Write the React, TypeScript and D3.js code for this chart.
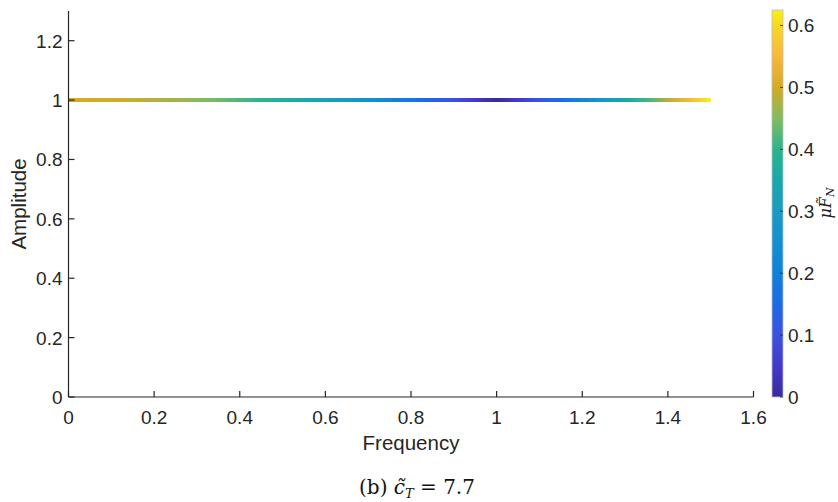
import React from "react";
import * as d3 from "d3";

const freq = [0, 0.05, 0.1, 0.15, 0.2, 0.25, 0.3, 0.35, 0.4, 0.45, 0.5, 0.55, 0.6, 0.65, 0.7, 0.75, 0.8, 0.85, 0.9, 0.95, 1.0, 1.05, 1.1, 1.15, 1.2, 1.25, 1.3, 1.35, 1.4, 1.45, 1.5];
const amplitude = [1, 1, 1, 1, 1, 1, 1, 1, 1, 1, 1, 1, 1, 1, 1, 1, 1, 1, 1, 1, 1, 1, 1, 1, 1, 1, 1, 1, 1, 1, 1];
const muFN = [0.5, 0.5, 0.495, 0.49, 0.48, 0.47, 0.455, 0.44, 0.42, 0.4, 0.375, 0.35, 0.32, 0.29, 0.255, 0.22, 0.18, 0.14, 0.095, 0.05, 0.0, 0.05, 0.105, 0.16, 0.22, 0.28, 0.345, 0.41, 0.48, 0.55, 0.625];

const xTicks = [0, 0.2, 0.4, 0.6, 0.8, 1, 1.2, 1.4, 1.6];
const yTicks = [0, 0.2, 0.4, 0.6, 0.8, 1, 1.2];
const cTicks = [0, 0.1, 0.2, 0.3, 0.4, 0.5, 0.6];
const cmapValues = [0, 0.05, 0.1, 0.15, 0.2, 0.25, 0.3, 0.35, 0.4, 0.45, 0.5, 0.55, 0.6, 0.625];
const cmapColors = ["#3b2a9c", "#4338cc", "#3a52e2", "#1a6ae8", "#0f80dc", "#1290d2", "#1a9ac2", "#18a8aa", "#2ab48e", "#80bc60", "#d6aa22", "#f8b83a", "#f8d824", "#f8f012"];

const W = 838, H = 502;
const fontSans = "'Liberation Sans', Arial, Helvetica, sans-serif";
const fontSerif = "'DejaVu Serif', 'Liberation Serif', serif";

export default function App() {
  const x = d3.scaleLinear().domain([0, 1.6]).range([68.5, 753.5]);
  const y = d3.scaleLinear().domain([0, 1.3]).range([397, 11]);
  const cmax = 0.625;
  const cy = d3.scaleLinear().domain([0, cmax]).range([397, 10]);
  const color = d3.scaleLinear<string>().domain(cmapValues).range(cmapColors).interpolate(d3.interpolateRgb).clamp(true);

  const pts = freq.map((f, i) => [f, amplitude[i]] as [number, number]);
  const line = d3.line<[number, number]>().x(d => x(d[0])).y(d => y(d[1]));

  const cbX = 772, cbW = 11;
  const cbStops = d3.range(0, 1.0001, 0.02);
  const axisColor = "#262626";
  const tickLen = 6;

  return (
    <svg width={W} height={H} style={{ position: "absolute", left: 0, top: 0, background: "#fff" }}>
      <defs>
        <linearGradient id="lineGrad" gradientUnits="userSpaceOnUse" x1={x(freq[0])} x2={x(freq[freq.length - 1])} y1={0} y2={0}>
          {freq.map((f, i) => (
            <stop key={i} offset={(f - freq[0]) / (freq[freq.length - 1] - freq[0])} stopColor={color(muFN[i])} />
          ))}
        </linearGradient>
        <linearGradient id="cbGrad" x1="0" x2="0" y1="1" y2="0">
          {cbStops.map((t, i) => (
            <stop key={i} offset={t} stopColor={color(t * cmax)} />
          ))}
        </linearGradient>
      </defs>

      {/* data line */}
      <path d={line(pts) || ""} fill="none" stroke="url(#lineGrad)" strokeWidth={4} />

      {/* axes */}
      <line x1={x(0)} x2={x(1.6)} y1={y(0)} y2={y(0)} stroke={axisColor} strokeWidth={1.2} />
      <line x1={x(0)} x2={x(0)} y1={y(0)} y2={y(1.3)} stroke={axisColor} strokeWidth={1.2} />
      {xTicks.map(t => (
        <g key={"x" + t}>
          <line x1={x(t)} x2={x(t)} y1={y(0)} y2={y(0) - tickLen} stroke={axisColor} strokeWidth={1.2} />
          <text x={x(t)} y={y(0) + 27} textAnchor="middle" fontFamily={fontSans} fontSize={19} fill={axisColor}>{String(t)}</text>
        </g>
      ))}
      {yTicks.map(t => (
        <g key={"y" + t}>
          <line x1={x(0)} x2={x(0) + tickLen} y1={y(t)} y2={y(t)} stroke={axisColor} strokeWidth={1.2} />
          <text x={x(0) - 6} y={y(t) + 7} textAnchor="end" fontFamily={fontSans} fontSize={19} fill={axisColor}>{String(t)}</text>
        </g>
      ))}
      <text x={(x(0) + x(1.6)) / 2} y={450} textAnchor="middle" fontFamily={fontSans} fontSize={20.5} fill={axisColor}>Frequency</text>
      <text transform={`translate(26,${(y(0) + y(1.3)) / 2}) rotate(-90)`} textAnchor="middle" fontFamily={fontSans} fontSize={20.5} fill={axisColor}>Amplitude</text>

      {/* colorbar */}
      <rect x={cbX} y={cy(cmax)} width={cbW} height={cy(0) - cy(cmax)} fill="url(#cbGrad)" stroke="#bdbdbd" strokeWidth={0.8} />
      {cTicks.map(t => (
        <g key={"c" + t}>
          <line x1={cbX + cbW} x2={cbX + cbW - 3} y1={cy(t)} y2={cy(t)} stroke={axisColor} strokeWidth={0.8} />
          <text x={cbX + cbW + 5} y={cy(t) + 7} textAnchor="start" fontFamily={fontSans} fontSize={19} fill={axisColor}>{String(t)}</text>
        </g>
      ))}
      <text transform="translate(831,203) rotate(-90)" textAnchor="middle" fontFamily={fontSerif} fontSize={16} fill="#222">
        <tspan fontStyle="italic">{"\u03bcF\u0303"}</tspan>
        <tspan fontStyle="italic" fontSize={11} dy={3}>N</tspan>
      </text>

      {/* caption */}
      <text x={417} y={494} textAnchor="middle" fontFamily={fontSerif} fontSize={20} fill="#111">
        <tspan>(b) </tspan>
        <tspan fontStyle="italic">{"c\u0303"}</tspan>
        <tspan fontStyle="italic" fontSize={13} dy={4}>T</tspan>
        <tspan dy={-4}>{" = 7.7"}</tspan>
      </text>
    </svg>
  );
}
